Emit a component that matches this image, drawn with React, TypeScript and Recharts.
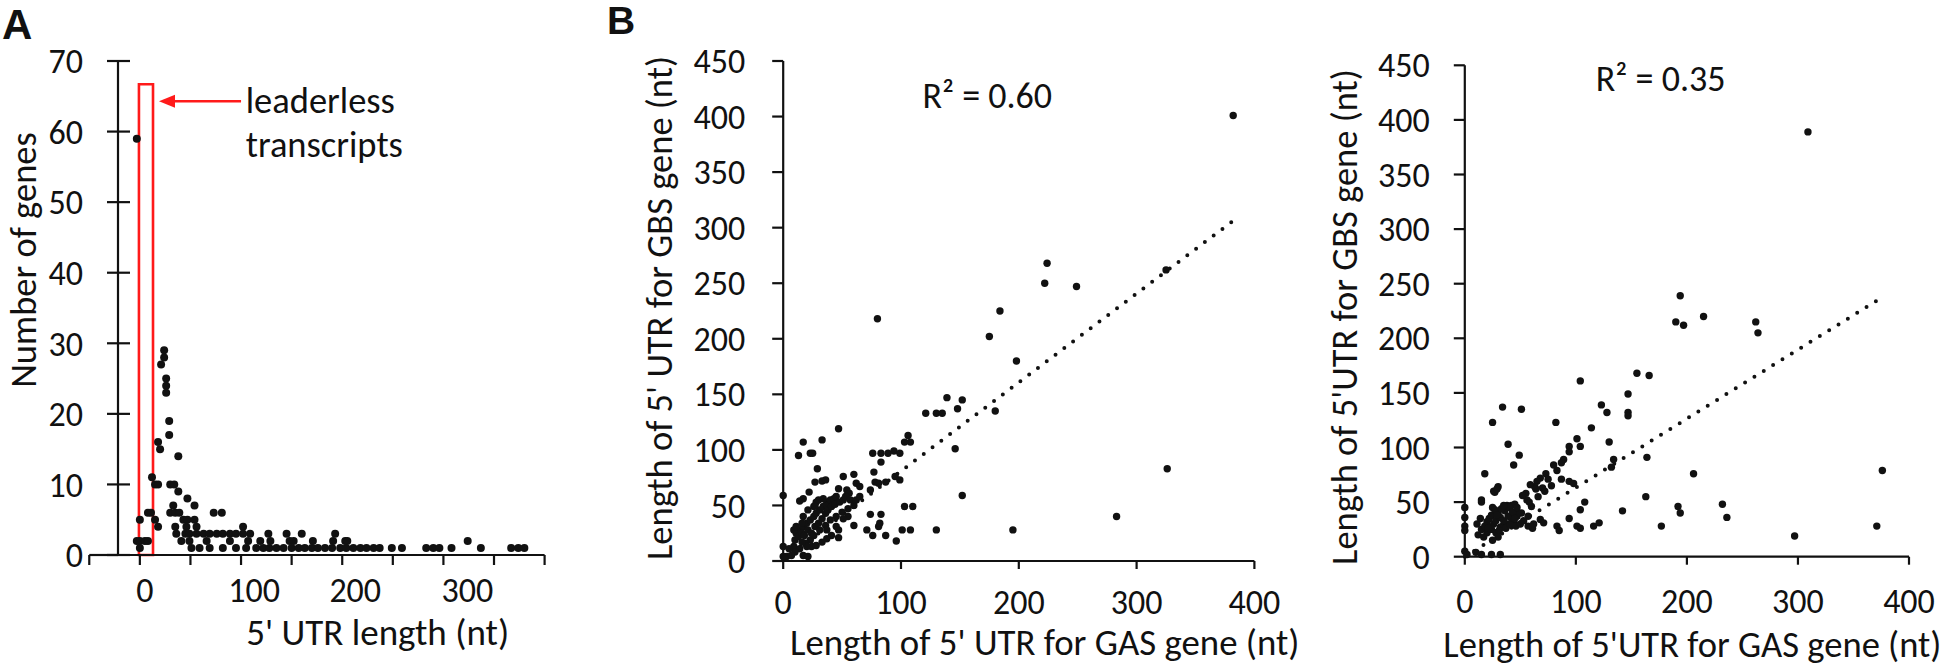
import {
  ReferenceArea,
  ReferenceDot,
  ReferenceLine,
  Scatter,
  ScatterChart,
  XAxis,
  YAxis,
} from 'recharts';

const FONT = 'Carlito, Lato, "Liberation Sans", sans-serif';
const INK = '#111';
const RED = '#ff1a1a';

// Panel A: [5' UTR length, number of genes]
const utrHistogram: [number, number][] = [
  [-3, 59],
  [24, 29], [24, 28], [21, 27], [26, 25], [26, 24], [26, 23], [29, 19], [29, 17], [18, 16], [20, 15], [38, 14],
  [12, 11], [15, 10], [18, 10], [30, 10], [34, 10], [38, 9], [47, 8], [33, 7], [54, 7],
  [8, 6], [11, 6], [30, 6], [35, 6], [39, 6], [73, 6], [81, 6],
  [0, 5], [15, 5], [43, 5], [47, 5], [54, 5],
  [18, 4], [35, 4], [46, 4], [56, 4], [102, 4],
  [-3, 2], [0, 2], [5, 2], [8, 2], [0, 1],
  [36, 3], [45, 3], [49, 3], [56, 3], [63, 3], [69, 3], [76, 3], [82, 3], [89, 3], [95, 3], [102, 3], [109, 3],
  [127, 3], [145, 3], [160, 3], [193, 3],
  [41, 2], [49, 2], [66, 2], [89, 2], [107, 2], [119, 2], [129, 2], [148, 2], [152, 2], [171, 2], [191, 2],
  [203, 2], [205, 2], [324, 2],
  [51, 1], [59, 1], [69, 1], [82, 1], [95, 1], [105, 1], [115, 1], [122, 1], [128, 1], [135, 1], [142, 1],
  [150, 1], [157, 1], [163, 1], [170, 1], [176, 1], [183, 1], [190, 1], [198, 1], [204, 1], [211, 1], [218, 1],
  [224, 1], [231, 1], [237, 1], [249, 1], [259, 1], [283, 1], [290, 1], [296, 1], [308, 1], [337, 1], [367, 1],
  [374, 1], [380, 1],
];
const aYTicks = [0, 10, 20, 30, 40, 50, 60, 70];
const aXTicks = [0, 50, 100, 150, 200, 250, 300, 350, 400];
const aXLabels = [0, 100, 200, 300];

// Panel B left: [GAS 5' UTR, GBS 5' UTR]
const utrPairsLeft: [number, number][] = [
  [382, 401], [224, 268], [222, 250], [249, 247], [325, 262], [326, 83], [283, 40], [195, 28], [184, 225],
  [175, 202], [198, 180], [80, 218],
  [139, 147], [152, 145], [148, 137], [121, 133], [130, 133], [135, 133], [180, 135],
  [47, 119], [106, 113], [108, 107], [103, 107], [33, 109], [17, 107], [23, 97], [25, 97], [13, 95],
  [76, 97], [83, 97], [89, 97], [94, 99], [99, 97], [146, 101],
  [83, 89], [29, 83], [51, 76], [60, 78], [77, 80], [95, 76], [99, 73],
  [27, 71], [33, 72], [36, 73], [62, 70], [65, 67], [47, 65], [54, 64], [56, 61], [78, 71], [81, 70], [87, 71], [74, 64],
  [22, 62], [17, 56], [14, 54], [28, 53], [37, 53], [40, 52],
  [0, 59], [152, 59], [74, 42], [83, 42], [103, 49], [110, 49],
  [60, 32], [47, 28], [47, 21], [71, 28], [76, 23], [81, 31], [82, 34], [87, 23], [96, 18], [101, 28], [108, 28], [130, 28],
  [0, 13], [0, 4], [3, 4], [17, 5], [21, 4],
  [9, 13], [10, 19], [11, 25], [14, 28], [17, 31], [20, 34], [23, 37], [26, 40], [28, 43], [31, 46], [34, 49],
  [37, 50], [40, 55], [43, 56], [45, 58],
  [13, 22], [16, 25], [18, 23], [21, 28], [24, 25], [27, 31], [30, 34], [33, 38], [36, 43], [38, 46], [41, 49],
  [44, 51], [48, 53], [51, 55], [53, 58], [57, 55], [55, 47], [50, 44], [45, 40], [40, 37], [36, 32], [31, 28],
  [26, 23], [23, 19], [19, 16], [14, 11], [10, 8], [7, 5], [5, 11], [9, 28], [17, 40], [21, 46], [26, 49],
  [37, 28], [41, 23], [45, 31], [24, 13], [28, 14], [33, 17], [37, 20], [11, 31], [16, 34], [20, 13], [16, 17],
  [27, 50], [30, 55], [34, 56], [60, 50], [62, 55], [65, 58], [55, 40], [51, 38],
];
const trendLeft = [{ x: 0, y: 1 }, { x: 383, y: 307 }];

// Panel B right: [GAS 5'UTR, GBS 5'UTR]
const utrPairsRight: [number, number][] = [
  [309, 389], [376, 79], [371, 28], [297, 19], [264, 205], [262, 215], [215, 220], [194, 239], [190, 215],
  [197, 212], [232, 48], [236, 36], [206, 76], [177, 28], [163, 55], [164, 91], [155, 168], [166, 166],
  [147, 149], [147, 132], [147, 129], [130, 105], [114, 118], [104, 161], [123, 139], [128, 132], [142, 42],
  [34, 137], [51, 135], [25, 123], [82, 123], [101, 108], [94, 101], [94, 96], [104, 101], [39, 103], [49, 93],
  [44, 84], [134, 89], [132, 82],
  [89, 89], [87, 86], [83, 79], [80, 84], [73, 76], [68, 72], [65, 69], [63, 64], [59, 66], [55, 58], [56, 52],
  [75, 71], [87, 71],
  [18, 76], [30, 64], [26, 60], [15, 50], [94, 69], [98, 67], [108, 50], [104, 43], [94, 35], [101, 28],
  [104, 26], [116, 28], [121, 31], [192, 46], [194, 40],
  [83, 28], [85, 24], [68, 34], [71, 31], [61, 26], [57, 37], [51, 40], [47, 37], [42, 47], [38, 47], [45, 48],
  [0, 45], [0, 36], [0, 28], [0, 24], [0, 5], [2, 2], [10, 4], [15, 2], [24, 2], [32, 2],
  [15, 52], [11, 30], [14, 35], [27, 59], [29, 62],
  [12, 20], [15, 25], [18, 28], [20, 32], [22, 35], [24, 38], [26, 30], [28, 33], [30, 40], [32, 36], [34, 28],
  [36, 42], [38, 30], [40, 45], [42, 35], [44, 32], [46, 28], [48, 40], [20, 22], [24, 25], [28, 22], [32, 27],
  [17, 18], [25, 45], [27, 43], [29, 38], [33, 44], [35, 33], [39, 37], [43, 41], [22, 27], [31, 24], [37, 26],
  [41, 29], [45, 35], [50, 30], [53, 33], [57, 28], [62, 30], [30, 18], [25, 15], [21, 26], [35, 47], [47, 45],
  [60, 46], [66, 55], [70, 63], [72, 60], [78, 65], [64, 62], [58, 50], [52, 56],
];
const trendRight = [{ x: 0, y: 0 }, { x: 375, y: 237 }];

const bXTicks = [0, 100, 200, 300, 400];
const bYTicks = [0, 50, 100, 150, 200, 250, 300, 350, 400, 450];

const toPoints = (rows: [number, number][]) => rows.map(([x, y]) => ({ x, y }));

const DotA = (p: any) => <circle cx={p.cx} cy={p.cy} r={4} fill={INK} />;
const DotB = (p: any) => <circle cx={p.cx} cy={p.cy} r={3.7} fill={INK} />;

const tickFont = { fontSize: 34, fontFamily: FONT, fill: INK };
const axisStroke = { stroke: INK, strokeWidth: 2.2 };

const CrossYTick = (p: any) => (
  <g>
    <line x1={p.x - 11} x2={p.x + 12} y1={p.y} y2={p.y} stroke={INK} strokeWidth={2.2} />
    <text x={p.x - 35} y={p.y} dy="0.36em" textAnchor="end" fontSize={34} fontFamily={FONT} fill={INK}>
      {p.payload.value}
    </text>
  </g>
);

// the printed labels in panel A sit a little right of their tick marks
const labelShiftA: Record<number, number> = { 0: 5, 100: 13, 200: 13, 300: 24 };
const SparseXTick = (p: any) => {
  const v = p.payload.value;
  if (!aXLabels.includes(v)) return <g />;
  return (
    <text x={p.x + (labelShiftA[v] ?? 0)} y={p.y} dy="0.71em" textAnchor="middle" fontSize={34} fontFamily={FONT} fill={INK}>
      {v}
    </text>
  );
};

const Arrowhead = (p: any) => (
  <polygon points={`${p.cx},${p.cy} ${p.cx + 16},${p.cy - 6.5} ${p.cx + 16},${p.cy + 6.5}`} fill={RED} />
);

function PairPanel({ left, width, top, plotBottom, yAxisWidth, right, xMargin, yMargin, data, trend }: any) {
  return (
    <div style={{ position: 'absolute', left, top: 0 }}>
      <ScatterChart width={width} height={669} margin={{ top, right, bottom: 0, left: 0 }}>
        <XAxis
          type="number"
          dataKey="x"
          domain={[0, 400]}
          ticks={bXTicks}
          height={669 - plotBottom}
          tickSize={8}
          tickMargin={xMargin}
          tick={tickFont}
          axisLine={axisStroke}
          tickLine={axisStroke}
        />
        <YAxis
          type="number"
          dataKey="y"
          domain={[0, 450]}
          ticks={bYTicks}
          width={yAxisWidth}
          tickSize={11}
          tickMargin={yMargin}
          tick={tickFont}
          axisLine={axisStroke}
          tickLine={axisStroke}
        />
        <ReferenceLine
          segment={trend}
          stroke={INK}
          strokeWidth={4}
          strokeDasharray="0 11"
          strokeLinecap="round"
        />
        <Scatter data={toPoints(data)} shape={DotB} isAnimationActive={false} />
      </ScatterChart>
    </div>
  );
}

const textStyle = { fontFamily: FONT, fill: INK };

export default function App() {
  return (
    <div style={{ position: 'absolute', left: 0, top: 0, width: 1946, height: 669, background: '#fff', overflow: 'hidden' }}>
      {/* Panel A */}
      <div style={{ position: 'absolute', left: 0, top: 0 }}>
        <ScatterChart width={560} height={669} margin={{ top: 61, right: 15.4, bottom: 0, left: 0 }}>
          <XAxis
            type="number"
            dataKey="x"
            domain={[-21.6, 400]}
            ticks={aXTicks}
            height={114}
            tickSize={10}
            tickMargin={12.4}
            tick={SparseXTick}
            axisLine={axisStroke}
            tickLine={axisStroke}
          />
          <YAxis
            type="number"
            dataKey="y"
            domain={[0, 70]}
            ticks={aYTicks}
            width={118}
            tickSize={0}
            tickMargin={0}
            tickLine={false}
            tick={CrossYTick}
            axisLine={axisStroke}
          />
          <ReferenceLine segment={[{ x: -50, y: 0 }, { x: -21.6, y: 0 }]} ifOverflow="visible" {...axisStroke} />
          <ReferenceLine segment={[{ x: -50, y: 0 }, { x: -50, y: -1.42 }]} ifOverflow="visible" {...axisStroke} />
          <ReferenceArea x1={-0.9} x2={13} y1={0} y2={66.7} fill="none" fillOpacity={0} stroke={RED} strokeWidth={2.6} ifOverflow="visible" />
          <ReferenceLine segment={[{ x: 32, y: 64.3 }, { x: 100, y: 64.3 }]} ifOverflow="visible" stroke={RED} strokeWidth={2.6} />
          <ReferenceDot x={18.9} y={64.3} r={0} shape={Arrowhead} ifOverflow="visible" />
          <Scatter data={toPoints(utrHistogram)} shape={DotA} isAnimationActive={false} />
        </ScatterChart>
      </div>

      <PairPanel left={600} width={680} top={61} plotBottom={561} yAxisWidth={183.2} right={25.6} xMargin={21} yMargin={27} data={utrPairsLeft} trend={trendLeft} />
      <PairPanel left={1290} width={656} top={65.3} plotBottom={556.7} yAxisWidth={174.8} right={37} xMargin={24} yMargin={24} data={utrPairsRight} trend={trendRight} />

      <svg width={1946} height={669} style={{ position: 'absolute', left: 0, top: 0, pointerEvents: 'none' }}>
        <text x={2} y={38.5} fontSize={42} fontWeight={700} fontFamily='"Liberation Sans", Arial, sans-serif' fill={INK}>A</text>
        <text x={607} y={34} fontSize={39} fontWeight={700} fontFamily='"Liberation Sans", Arial, sans-serif' fill={INK}>B</text>

        <text x={35.5} y={260} transform="rotate(-90 35.5 260)" textAnchor="middle" fontSize={36.5} {...textStyle}>Number of genes</text>
        <text x={377.7} y={645} textAnchor="middle" fontSize={37} {...textStyle}>5' UTR length (nt)</text>
        <text x={245.7} y={113} fontSize={36.5} {...textStyle}>leaderless</text>
        <text x={245.7} y={157} fontSize={36.5} {...textStyle}>transcripts</text>

        <text x={672} y={308} transform="rotate(-90 672 308)" textAnchor="middle" fontSize={36.5} {...textStyle}>Length of 5' UTR for GBS gene (nt)</text>
        <text x={1044.7} y={655} textAnchor="middle" fontSize={36.8} {...textStyle}>Length of 5' UTR for GAS gene (nt)</text>
        <text x={922.4} y={107.5} fontSize={36} {...textStyle}>R² = 0.60</text>

        <text x={1357} y={317} transform="rotate(-90 1357 317)" textAnchor="middle" fontSize={36.5} {...textStyle}>Length of 5'UTR for GBS gene (nt)</text>
        <text x={1692.4} y={657} textAnchor="middle" fontSize={36.6} {...textStyle}>Length of 5'UTR for GAS gene (nt)</text>
        <text x={1595.8} y={91} fontSize={36} {...textStyle}>R² = 0.35</text>
      </svg>
    </div>
  );
}
